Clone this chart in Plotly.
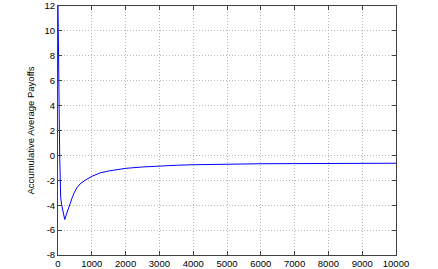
import plotly.graph_objects as go

# Iteration index and accumulative average payoff
iterations = [0, 3, 6, 9, 12, 15, 18, 21, 25, 30, 35, 40, 50, 60, 80, 110, 150, 200,
              240, 300, 355, 420, 480, 560, 650, 800, 1000, 1250, 1500, 1750, 2000,
              2500, 3000, 3500, 4000, 5000, 6000, 7000, 8000, 9000, 10000]
payoffs = [12.0, 10.5, 11.8, 9.0, 11.0, 7.0, 10.0, 5.0, 8.0, 3.5, 4.0, 2.2, 0.0, -2.5,
           -3.4, -4.0, -4.6, -5.15, -4.8, -4.3, -4.0, -3.4, -3.0, -2.6, -2.3, -2.0,
           -1.68, -1.4, -1.25, -1.13, -1.04, -0.93, -0.85, -0.79, -0.75, -0.7, -0.67,
           -0.66, -0.65, -0.64, -0.63]

x_ticks = list(range(0, 10001, 1000))
y_ticks = list(range(-8, 13, 2))

fig = go.Figure()
fig.add_trace(go.Scatter(x=iterations, y=payoffs, mode="lines",
                         line=dict(color="#0000ff", width=1), showlegend=False))

font = dict(family="Liberation Sans, Arial", size=9.5, color="#000000")
axis_common = dict(showline=True, linecolor="#404040", linewidth=1, mirror="ticks",
                   ticks="inside", ticklen=4, tickcolor="#404040",
                   showgrid=True, gridcolor="#b8b8b8", griddash="1px,2px", gridwidth=1,
                   zeroline=False, automargin=False, tickfont=font)

fig.update_xaxes(range=[0, 10000], tickvals=x_ticks, ticktext=[str(v) for v in x_ticks],
                 **axis_common)
fig.update_yaxes(range=[-8, 12], tickvals=y_ticks, ticktext=[str(v) for v in y_ticks],
                 title=dict(text="Accumulative Average Payoffs", standoff=8, font=font),
                 **axis_common)

fig.update_layout(width=438, height=269, margin=dict(l=58, r=42, t=6, b=14),
                  paper_bgcolor="white", plot_bgcolor="white")

fig.write_html("out.html", config={"displayModeBar": False},
               post_script="document.body.style.margin='0';")
